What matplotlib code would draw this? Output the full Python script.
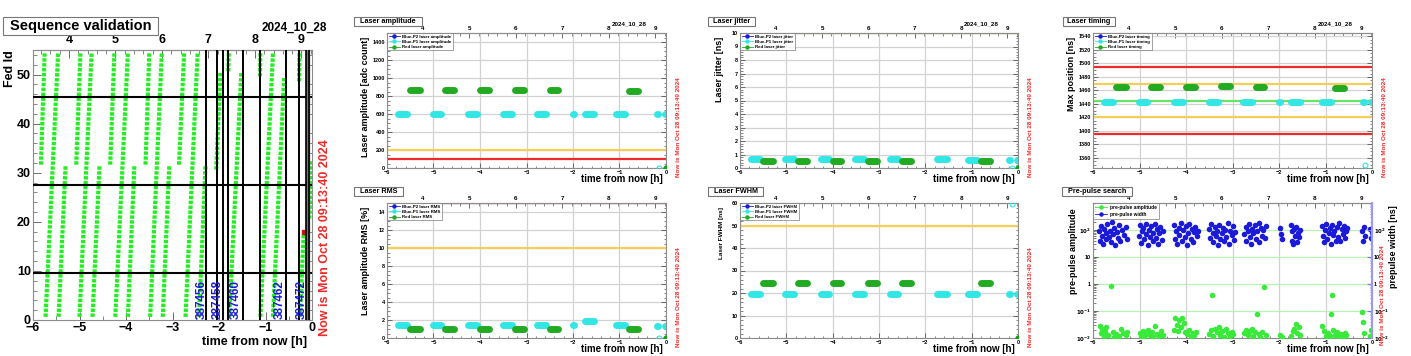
import numpy as np
import matplotlib
matplotlib.use('Agg')
from matplotlib import pyplot as plt
from matplotlib.ticker import MultipleLocator, FixedLocator, FixedFormatter, NullFormatter
from matplotlib.lines import Line2D
from matplotlib.patches import Rectangle

plt.rcParams['font.family'] = ['Liberation Sans', 'DejaVu Sans']
plt.rcParams['font.weight'] = 'bold'
plt.rcParams['axes.labelweight'] = 'bold'

W, H = 1411, 356
now_h = 9 + 13 / 60. + 40 / 3600.   # 09:13:40
now_text = 'Now is Mon Oct 28 09:13:40 2024'
date_text = '2024_10_28'

######################
# Sequence validation: one column of fed squares per laser sequence
seq_t0 = [-5.83, -5.73, -5.45, -5.07, -5.00, -4.72, -4.34, -4.23, -3.96,
          -3.58, -3.48, -3.21, -2.86, -2.72, -2.43, -2.06, -1.80, -1.78,
          -1.12, -1.11, -0.84, -0.28, -0.26, -0.06]
seq_f0 = [32, 1, 1, 32, 1, 1, 32, 1, 1,
          32, 1, 1, 32, 1, 1, 31, 51, 1,
          50, 1, 1, 49, 1, 21]
seq_t1 = [-5.75, -5.46, -5.30, -4.98, -4.74, -4.57, -4.25, -3.96, -3.82,
          -3.50, -3.23, -3.07, -2.75, -2.46, -2.29, -1.97, -1.79, -1.52,
          -1.11, -0.84, -0.60, -0.27, -0.18, 0.0]
seq_f1 = [54, 54, 31, 54, 54, 31, 54, 54, 31,
          54, 54, 31, 54, 54, 31, 50, 54, 50,
          54, 54, 49, 54, 17, 32]
bad_t = [-0.17]
bad_f = [18]
run_lines = [-2.27, -2.04, -1.92, -1.81, -1.49, -1.11, -0.56, -0.27]
run_band = [-0.13, -0.06]
run_numbers = ['387456', '387458', '387460', '387462', '387472']
run_label_t = [-2.36, -2.03, -1.65, -0.69, -0.22]
fed_bounds = [9.5, 27.5, 45.5]

######################
# Laser monitoring: centre of first / last point of each run cluster
blue_first = [-5.76, -5.02, -4.26, -3.51, -2.77, -1.99, -1.75, -1.07, -0.20, -0.02]
blue_last = [-5.57, -4.83, -4.07, -3.32, -2.58, -1.98, -1.54, -0.88, -0.18, 0.0]
red_first = [-5.50, -4.75, -3.99, -3.24, -2.50, -0.79]
red_last = [-5.29, -4.56, -3.81, -3.05, -2.32, -0.61]

amp_blue = [600, 598, 600, 600, 598, 598, 605, 600, 598, 600]
amp_red = [870, 868, 868, 862, 868, 858]
jit_blue = [0.68, 0.66, 0.65, 0.64, 0.65, 0.65, 0.70, 0.62, 0.62, 0.62]
jit_red = [0.55, 0.52, 0.52, 0.55, 0.55, 0.55]
tim_blue = [1443, 1443, 1443, 1443, 1443, 1443, 1443, 1443, 1443, 1443]
tim_red = [1465, 1465, 1465, 1466, 1465, 1464]
rms_blue = [1.45, 1.45, 1.40, 1.40, 1.40, 1.45, 1.85, 1.40, 1.35, 1.35]
rms_red = [1.05, 1.05, 1.05, 1.05, 1.05, 1.05]
fwhm_blue = [19.5, 19.5, 19.5, 19.5, 19.5, 19.5, 19.5, 19.5, 19.5, 19.5]
fwhm_red = [24.5, 24.5, 24.5, 24.5, 24.5, 24.5]

# latest single measurement
last_blue_t = -0.14
last_red_t = 0.0
last_blue = {'amp': 0, 'jit': 0, 'tim': 1350, 'rms': 0, 'fwhm': 59.5}
last_red = {'amp': 0, 'jit': 0, 'tim': 1340, 'rms': 0, 'fwhm': 0}

######################
# Pre-pulse search
pp_width_t = [-5.87, -5.85, -5.83, -5.80, -5.78, -5.76, -5.73, -5.71, -5.69, -5.66, -5.64, -5.61,
              -5.59, -5.57, -5.54, -5.52, -5.49, -5.46, -5.44, -5.41, -5.38, -5.34, -5.30, -5.27,
              -5.01, -4.99, -4.97, -4.95, -4.92, -4.90, -4.87, -4.85, -4.82, -4.80, -4.77,
              -4.75, -4.72, -4.70, -4.67, -4.65, -4.62, -4.60, -4.57, -4.55, -4.52, -4.50,
              -4.26, -4.24, -4.21, -4.19, -4.16, -4.14, -4.11, -4.09, -4.06, -4.03, -4.01,
              -3.98, -3.96, -3.93, -3.90, -3.88, -3.85, -3.83, -3.80, -3.77, -3.75,
              -3.50, -3.48, -3.46, -3.43, -3.41, -3.38, -3.36, -3.33, -3.31, -3.28, -3.26, -3.23,
              -3.21, -3.18, -3.16, -3.13, -3.10, -3.08, -3.05, -3.02, -3.00, -2.97, -2.95,
              -2.75, -2.72, -2.70, -2.67, -2.65, -2.62, -2.60, -2.57, -2.55, -2.52,
              -2.49, -2.47, -2.44, -2.42, -2.39, -2.36, -2.34, -2.31, -2.28,
              -1.97, -1.95, -1.94, -1.75, -1.73, -1.71, -1.69, -1.67, -1.65, -1.63, -1.61, -1.59,
              -1.57, -1.55,
              -1.08, -1.06, -1.03, -1.01, -0.98, -0.96, -0.93, -0.91, -0.88, -0.86, -0.83, -0.81,
              -0.78, -0.76, -0.73, -0.71, -0.68, -0.65, -0.63, -0.60, -0.58, -0.55, -0.53,
              -0.21, -0.19, -0.17, -0.15, -0.04, -0.02, -0.01]
pp_width = [95, 40, 140, 60, 30, 110, 75, 45, 160, 55, 90, 35,
            200, 70, 120, 28, 85, 50, 150, 38, 100, 65, 130, 45,
            60, 150, 32, 90, 120, 45, 170, 70, 28, 100, 55,
            140, 38, 80, 160, 50, 110, 30, 75, 130, 42, 95,
            150, 45, 90, 30, 120, 65, 180, 40, 100, 55, 140,
            28, 75, 160, 48, 110, 35, 85, 130, 60, 95,
            110, 50, 170, 75, 35, 130, 60, 95, 28, 150, 45, 80,
            120, 38, 100, 55, 175, 30, 90, 65, 140, 42, 85,
            70, 130, 40, 95, 160, 55, 30, 110, 75, 150,
            45, 90, 180, 35, 120, 60, 100, 50, 140,
            120, 70, 45, 150, 40, 90, 30, 110, 60, 130, 35, 80,
            55, 100,
            140, 60, 35, 100, 170, 45, 80, 120, 30, 150, 65, 95,
            40, 130, 55, 180, 38, 110, 70, 145, 50, 90, 120,
            90, 40, 130, 60, 110, 50, 80]
pp_amp_t = [-5.86, -5.83, -5.80, -5.77, -5.74, -5.71, -5.68, -5.62, -5.58, -5.55, -5.50, -5.45,
            -5.40, -5.35, -5.30, -5.27,
            -5.00, -4.97, -4.93, -4.90, -4.86, -4.82, -4.78, -4.74, -4.70, -4.66, -4.62, -4.58,
            -4.54, -4.50,
            -4.26, -4.24, -4.20, -4.17, -4.14, -4.11, -4.08, -4.05, -4.02, -3.98, -3.94, -3.90,
            -3.86, -3.82, -3.78,
            -3.50, -3.46, -3.44, -3.42, -3.38, -3.34, -3.30, -3.26, -3.22, -3.18, -3.14, -3.10,
            -3.06, -3.02, -2.98,
            -2.75, -2.71, -2.67, -2.63, -2.59, -2.55, -2.51, -2.48, -2.44, -2.40, -2.36, -2.32,
            -2.28,
            -1.97, -1.94, -1.74, -1.70, -1.67, -1.64, -1.61, -1.58, -1.55,
            -1.07, -1.03, -0.99, -0.95, -0.91, -0.89, -0.87, -0.83, -0.79, -0.75, -0.71, -0.67,
            -0.63, -0.59, -0.55,
            -0.22, -0.20, -0.18, -0.05, -0.02]
pp_amp = [0.028, 0.015, 0.022, 0.012, 0.018, 0.025, 0.013, 0.87, 0.016, 0.011, 0.014, 0.012,
          0.022, 0.015, 0.013, 0.016,
          0.015, 0.012, 0.018, 0.011, 0.014, 0.020, 0.013, 0.016, 0.011, 0.027, 0.014, 0.012,
          0.018, 0.013,
          0.020, 0.055, 0.030, 0.018, 0.045, 0.025, 0.055, 0.035, 0.016, 0.014, 0.020, 0.012,
          0.015, 0.013, 0.016,
          0.014, 0.020, 0.38, 0.012, 0.022, 0.016, 0.025, 0.013, 0.018, 0.011, 0.022, 0.015,
          0.012, 0.017, 0.014,
          0.015, 0.020, 0.013, 0.018, 0.022, 0.012, 0.016, 0.077, 0.014, 0.011, 0.016, 0.75,
          0.013,
          0.013, 0.011, 0.012, 0.018, 0.022, 0.033, 0.015, 0.025, 0.013,
          0.028, 0.018, 0.012, 0.015, 0.012, 0.077, 0.39, 0.020, 0.013, 0.016, 0.011, 0.014,
          0.012, 0.015, 0.013,
          0.088, 0.040, 0.015, 0.012, 0.020]

######################
# colours
c_seq = '#22ee22'
c_cyan = '#33e6e6'
c_dgreen = '#22aa22'
c_blue = '#1a1ad8'
c_red = '#ee2a2a'
c_gold = '#f3cf5a'
c_grid = '#d2d2d2'
c_frame = '#8c8c8c'

fig = plt.figure(figsize=(W / 100., H / 100.), dpi=100)


def px_axes(x0, y0, x1, y1):
    return fig.add_axes([x0 / W, 1 - y1 / H, (x1 - x0) / W, (y1 - y0) / H])


def ftext(x, y, s, **kw):
    return fig.text(x / W, 1 - y / H, s, **kw)


def title_box(x0, y0, x1, y1, s, fs):
    fig.patches.append(Rectangle((x0 / W, 1 - y1 / H), (x1 - x0) / W, (y1 - y0) / H,
                                 transform=fig.transFigure, fc='white', ec='#777777', lw=0.8))
    ftext((x0 + x1) / 2., (y0 + y1) / 2., s, ha='center', va='center', fontsize=fs)


def frame(ax, fs, maj, mnr):
    for sp in ax.spines.values():
        sp.set_color(c_frame)
        sp.set_linewidth(0.8)
    ax.tick_params(which='both', direction='in', right=True, top=False,
                   labelsize=fs, color='#555555', pad=1.5)
    ax.tick_params(which='major', length=maj, width=0.6)
    ax.tick_params(which='minor', length=mnr, width=0.5)


def top_hours(ax, fs, maj, mnr, pad):
    sec = ax.secondary_xaxis('top', functions=(lambda x: x + now_h, lambda x: x - now_h))
    sec.xaxis.set_major_locator(MultipleLocator(1))
    sec.xaxis.set_minor_locator(MultipleLocator(0.2))
    sec.tick_params(which='both', direction='in', labelsize=fs, pad=pad, color='#555555')
    sec.tick_params(which='major', length=maj, width=0.6)
    sec.tick_params(which='minor', length=mnr, width=0.5)
    sec.spines['top'].set_color(c_frame)
    return sec


######################
# Sequence validation
ax = px_axes(33, 50, 312, 320)
ax.set_xlim(-6, 0)
ax.set_ylim(0, 55)
px_per_fed = 270 / 55.
pitch = px_per_fed * 0.72
lw_seq = 3.0
for t0, f0, t1, f1 in zip(seq_t0, seq_f0, seq_t1, seq_f1):
    ax.plot([t0, t1], [f0 - 0.36, f1 + 0.36], color=c_seq, lw=lw_seq,
            dashes=(0.7 * pitch / lw_seq, 0.3 * pitch / lw_seq), solid_capstyle='butt', zorder=2)
ax.plot(bad_t, bad_f, 's', color='#cc1111', ms=3.2, zorder=3)
for f in fed_bounds:
    ax.axhline(f, color='k', lw=1.5, zorder=4)
for t in run_lines:
    ax.axvline(t, color='k', lw=1.4, zorder=4)
ax.axvspan(run_band[0], run_band[1], color='#777777', zorder=4)
for t in run_band:
    ax.axvline(t, color='k', lw=1.2, zorder=4)
for t, s in zip(run_label_t, run_numbers):
    ax.text(t, 0.3, s, rotation=90, ha='center', va='bottom', color='#1b1bd0',
            fontsize=8.5, zorder=5)
ax.xaxis.set_major_locator(MultipleLocator(1))
ax.xaxis.set_minor_locator(MultipleLocator(0.5))
ax.yaxis.set_major_locator(MultipleLocator(10))
ax.yaxis.set_minor_locator(MultipleLocator(2))
frame(ax, 9, 6, 3)
ax.tick_params(right=False)
top_hours(ax, 9, 6, 3, 3)
title_box(3, 17, 158, 35, 'Sequence validation', 10.5)
ftext(327, 28, date_text, ha='right', va='center', fontsize=8.5)
ftext(10, 50, 'Fed Id', rotation=90, ha='center', va='top', fontsize=9)
ftext(307, 342, 'time from now [h]', ha='right', va='center', fontsize=9)
ftext(325, 336, now_text, rotation=90, ha='center', va='bottom', color=c_red, fontsize=9)

######################
# Laser panels
panels = [
    # key, box, title box, title, ylabel, ylim, major, minor, blue, red, limit lines, legend word
    ('amp', (387, 33, 666, 168), (354, 17, 422, 26), 'Laser amplitude',
     'Laser amplitude [adc count]', (0, 1500), 200, 50, amp_blue, amp_red,
     [(100, c_red), (200, c_gold)], 'amplitude'),
    ('jit', (740, 33, 1018, 168), (708, 17, 755, 26), 'Laser jitter',
     'Laser jitter [ns]', (0, 10), 1, 0.2, jit_blue, jit_red,
     [(10, '#c9ad3c')], 'jitter'),
    ('tim', (1093, 33, 1372, 168), (1063, 17, 1115, 26), 'Laser timing',
     'Max position [ns]', (1345, 1545), 20, 5, tim_blue, tim_red,
     [(1395, c_red), (1495, c_red), (1420, c_gold), (1470, c_gold), (1445, '#66e266')], 'timing'),
    ('rms', (387, 203, 666, 338), (354, 187, 403, 196), 'Laser RMS',
     'Laser amplitude RMS [%]', (0, 15), 2, 0.5, rms_blue, rms_red,
     [(10, c_gold), (15, '#b02020')], 'RMS'),
    ('fwhm', (740, 203, 1018, 338), (708, 187, 763, 196), 'Laser FWHM',
     'Laser FWHM [ns]', (0, 60), 10, 2, fwhm_blue, fwhm_red,
     [(50, c_gold)], 'FWHM'),
]

for key, bx, tb, title, ylab, ylim, maj, mnr, vb, vr, limits, word in panels:
    a = px_axes(*bx)
    a.set_xlim(-6, 0)
    a.set_ylim(*ylim)
    a.xaxis.set_major_locator(MultipleLocator(1))
    a.xaxis.set_minor_locator(MultipleLocator(0.2))
    a.yaxis.set_major_locator(MultipleLocator(maj))
    a.yaxis.set_minor_locator(MultipleLocator(mnr))
    a.grid(True, which='major', color=c_grid, lw=0.9, zorder=0)
    a.set_axisbelow(True)
    for v, c in limits:
        a.axhline(v, color=c, lw=1.6, zorder=1)
    for t0, t1, v in zip(blue_first, blue_last, vb):
        a.plot([t0, t1], [v, v], color=c_cyan, lw=5, solid_capstyle='round', zorder=3)
    for t0, t1, v in zip(red_first, red_last, vr):
        a.plot([t0, t1], [v, v], color=c_dgreen, lw=5, solid_capstyle='round', zorder=3)
    a.plot([last_blue_t], [last_blue[key]], 'o', ms=3.5, mfc='none', mec=c_cyan, mew=0.8, zorder=3)
    a.plot([last_red_t], [last_red[key]], 'o', ms=3.5, color='#11a011', zorder=3)
    frame(a, 4, 3.5, 1.8)
    top = bx[1] < 100
    top_hours(a, 4.5, 3.5, 1.8, 1.5)
    handles = [Line2D([0], [0], color=c_blue, marker='o', ms=2.2, lw=0.6),
               Line2D([0], [0], color=c_cyan, marker='o', ms=2.2, lw=0.6),
               Line2D([0], [0], color=c_dgreen, marker='o', ms=2.2, lw=0.6)]
    labels = ['Blue-P2 laser ' + word, 'Blue-P1 laser ' + word, 'Red laser ' + word]
    leg = a.legend(handles, labels, loc='upper left', bbox_to_anchor=(0, 1), fontsize=3.2,
                   frameon=True, fancybox=False, borderaxespad=0.05, handlelength=2.5,
                   labelspacing=0.25, borderpad=0.3, handletextpad=0.6)
    leg.get_frame().set_edgecolor('#777777')
    leg.get_frame().set_linewidth(0.6)
    title_box(*tb, title, 5.2)
    if top:
        ftext(bx[2] - 19, 23.5, date_text, ha='right', va='center', fontsize=4.5)
    fsl = 4.6 if key == 'fwhm' else 6.5
    ftext(bx[0] - 21 + (3 if key == 'fwhm' else 0), bx[1] + 4, ylab, rotation=90,
          ha='center', va='top', fontsize=fsl)
    ftext(bx[2] - 3, bx[3] + 11, 'time from now [h]', ha='right', va='center', fontsize=7)
    ftext(bx[2] + 12, bx[3] + 9, now_text, rotation=90, ha='center', va='bottom',
          color=c_red, fontsize=4.6)

######################
# Pre-pulse search
ap = px_axes(1093, 203, 1372, 338)
ap.set_yscale('log')
ap.set_xlim(-6, 0)
ap.set_ylim(1e-2, 1e3)
ap.xaxis.set_major_locator(MultipleLocator(1))
ap.xaxis.set_minor_locator(MultipleLocator(0.2))
dec = [1e-2, 1e-1, 1, 10, 100]
dec_lab = ['$10^{-2}$', '$10^{-1}$', '1', '10', '$10^{2}$']
ap.yaxis.set_major_locator(FixedLocator(dec))
ap.yaxis.set_major_formatter(FixedFormatter(dec_lab))
ap.yaxis.set_minor_formatter(NullFormatter())
for v in dec:
    ap.axhline(v, color='#b4f5b4', lw=0.9, zorder=0)
ap.grid(True, axis='x', which='major', color=c_grid, lw=0.9, zorder=0)
ap.set_axisbelow(True)
ap.scatter(pp_width_t, pp_width, s=16, color=c_blue, lw=0, zorder=3)
ap.scatter(pp_amp_t, pp_amp, s=16, color='#3aea3a', lw=0, zorder=3)
frame(ap, 4, 3.5, 1.8)
ap.tick_params(right=False)
ap2 = ap.twinx()
ap2.set_yscale('log')
ap2.set_ylim(1e-2, 1e3)
ap2.yaxis.set_major_locator(FixedLocator(dec))
ap2.yaxis.set_major_formatter(FixedFormatter(dec_lab))
ap2.yaxis.set_minor_formatter(NullFormatter())
ap2.tick_params(which='both', direction='in', labelsize=4, color='#7777ee', pad=1.5)
ap2.tick_params(which='major', length=3.5)
ap2.tick_params(which='minor', length=1.8)
ap2.spines['right'].set_color('#9a9af0')
ap2.spines['right'].set_linewidth(1.5)
for s in ['left', 'top', 'bottom']:
    ap2.spines[s].set_visible(False)
top_hours(ap, 4.5, 3.5, 1.8, 1.5)
handles = [Line2D([0], [0], color='#3aea3a', marker='o', ms=2.2, lw=0.6),
           Line2D([0], [0], color=c_blue, marker='o', ms=2.2, lw=0.6)]
leg = ap.legend(handles, ['pre-pulse amplitude', 'pre-pulse width'], loc='upper left',
                bbox_to_anchor=(0, 1), fontsize=3.5, frameon=True, fancybox=False,
                borderaxespad=0.05, handlelength=2.5, labelspacing=0.35, borderpad=0.4,
                handletextpad=0.6)
leg.get_frame().set_edgecolor('#777777')
leg.get_frame().set_linewidth(0.6)
leg.set_zorder(6)
title_box(1062, 187, 1132, 196, 'Pre-pulse search', 5.2)
ftext(1074, 208, 'pre-pulse amplitude', rotation=90, ha='center', va='top', fontsize=6.5)
ftext(1394, 205, 'prepulse width [ns]', rotation=90, ha='center', va='top', fontsize=6.5)
ftext(1369, 349, 'time from now [h]', ha='right', va='center', fontsize=7)
ftext(1382, 345, now_text, rotation=90, ha='center', va='bottom', color=c_red, fontsize=4.6)

fig.savefig('out.png', dpi=100)
